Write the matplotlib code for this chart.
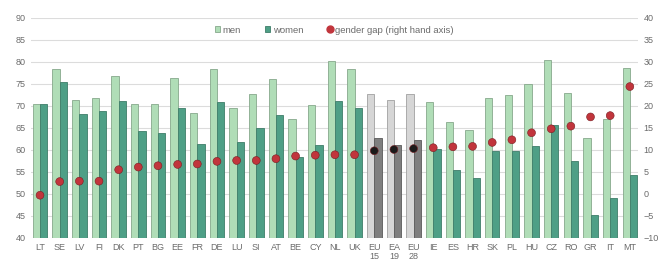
import matplotlib.pyplot as plt
import numpy as np

plt.rcParams['font.family'] = ['Liberation Sans', 'DejaVu Sans']

countries = ['LT', 'SE', 'LV', 'FI', 'DK', 'PT', 'BG', 'EE', 'FR', 'DE', 'LU', 'SI',
             'AT', 'BE', 'CY', 'NL', 'UK', 'EU\n15', 'EA\n19', 'EU\n28', 'IE', 'ES',
             'HR', 'SK', 'PL', 'HU', 'CZ', 'RO', 'GR', 'IT', 'MT']
men = [70.4, 78.3, 71.4, 71.8, 76.7, 70.5, 70.4, 76.4, 68.3, 78.4, 69.6, 72.7,
       76.1, 67.0, 70.1, 80.1, 78.4, 72.7, 71.4, 72.7, 70.9, 66.3,
       64.6, 71.8, 72.4, 74.9, 80.4, 72.9, 62.7, 67.0, 78.6]
women = [70.5, 75.5, 68.2, 68.9, 71.2, 64.3, 63.8, 69.6, 61.4, 70.8, 61.9, 64.9,
         68.0, 58.3, 61.2, 71.1, 69.5, 62.8, 61.1, 62.3, 60.2, 55.5,
         53.6, 59.8, 59.8, 61.0, 65.6, 57.5, 45.1, 49.1, 54.3]
gap = [-0.3, 2.8, 2.9, 2.9, 5.5, 6.1, 6.4, 6.7, 6.8, 7.4, 7.6, 7.6,
       8.0, 8.6, 8.8, 8.9, 8.9, 9.8, 10.1, 10.3, 10.5, 10.7,
       10.8, 11.7, 12.3, 13.9, 14.8, 15.4, 17.5, 17.8, 24.4]
aggregates = ['EU\n15', 'EA\n19', 'EU\n28']

x = np.arange(len(countries))
is_agg = np.array([c in aggregates for c in countries])

men_col = np.where(is_agg, '#d6d6d6', '#b0ddb7')
women_col = np.where(is_agg, '#7f7f7f', '#4e9f86')
men_edge = np.where(is_agg, '#a0a0a0', '#86a88c')
women_edge = np.where(is_agg, '#5a5a5a', '#3e7d69')
dot_col = np.where(is_agg, '#1a1a1a', '#c1353c')

fig = plt.figure(figsize=(6.59, 2.6), dpi=100)
ax = fig.add_axes([0.047, 0.085, 0.921, 0.846])
w = 0.37
ax.bar(x - w / 2, men, w, color=men_col, edgecolor=men_edge, linewidth=0.6, zorder=2)
ax.bar(x + w / 2, women, w, color=women_col, edgecolor=women_edge, linewidth=0.6, zorder=2)
ax.set_ylim(40, 90)
ax.set_yticks(np.arange(40, 91, 5))
ax.set_xlim(-0.46, len(countries) - 0.59)
ax.set_xticks(x)
ax.set_xticklabels(countries, linespacing=0.9)
ax.grid(axis='y', color='#dcdcdc', linewidth=0.8, zorder=0)
ax.set_axisbelow(True)
for s in ax.spines.values():
    s.set_visible(False)
ax.tick_params(length=0, labelsize=6.5, labelcolor='#6b6b6b', pad=4)

ax2 = ax.twinx()
ax2.scatter(x, gap, s=32, c=dot_col, edgecolors='#7a1d22', linewidths=0.4, zorder=5)
ax2.set_ylim(-10, 40)
ax2.set_yticks(np.arange(-10, 41, 5))
for s in ax2.spines.values():
    s.set_visible(False)
ax2.tick_params(length=0, labelsize=6.5, labelcolor='#6b6b6b', pad=4)

h1 = plt.Rectangle((0, 0), 1, 1, facecolor='#b0ddb7', edgecolor='#86a88c', linewidth=0.6)
h2 = plt.Rectangle((0, 0), 1, 1, facecolor='#4e9f86', edgecolor='#3e7d69', linewidth=0.6)
h3 = plt.Line2D([], [], marker='o', linestyle='none', markersize=5,
                markerfacecolor='#c1353c', markeredgecolor='#c1353c')
leg = ax2.legend([h1, h2, h3], ['men', 'women', 'gender gap (right hand axis)'],
                 loc='center', bbox_to_anchor=(0.50, 0.945), ncol=3, fontsize=6.8,
                 frameon=False, handlelength=0.55, handleheight=0.55,
                 handletextpad=0.25, columnspacing=2.6)
for t in leg.get_texts():
    t.set_color('#6b6b6b')

fig.savefig('out.png', dpi=100)
